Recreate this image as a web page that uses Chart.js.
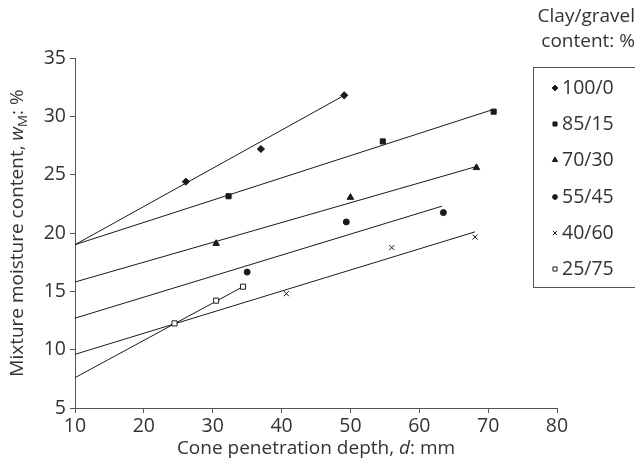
<!DOCTYPE html>
<html>
<head>
<meta charset="utf-8">
<script src="https://cdn.jsdelivr.net/npm/chart.js@4.4.0/dist/chart.umd.min.js"></script>
<style>
  html, body { margin: 0; padding: 0; background: #fff; }
</style>
</head>
<body>
<canvas id="chart" width="635" height="469"></canvas>
<script>
// measured points: cone depth (mm) vs mixture moisture content (%)
const seriesNames = ['100/0', '85/15', '70/30', '55/45', '40/60', '25/75'];

const depth100 = [26.1, 37.0, 49.1];
const moist100 = [24.4, 27.2, 31.8];
const depth85 = [32.3, 54.7, 70.8];
const moist85 = [23.15, 27.85, 30.4];
const depth70 = [30.5, 50.0, 68.3];
const moist70 = [19.1, 23.05, 25.6];
const depth55 = [35.0, 49.4, 63.5];
const moist55 = [16.65, 20.95, 21.75];
const depth40 = [40.7, 56.0, 68.1];
const moist40 = [14.8, 18.75, 19.65];
const depth25 = [24.45, 30.5, 34.4];
const moist25 = [12.25, 14.2, 15.4];

// fitted lines, [start, end]
const fitDepth100 = [10, 48.8], fitMoist100 = [19.0, 31.7];
const fitDepth85 = [10, 70.8], fitMoist85 = [19.0, 30.6];
const fitDepth70 = [10, 68.3], fitMoist70 = [15.8, 25.7];
const fitDepth55 = [10, 63.3], fitMoist55 = [12.7, 22.3];
const fitDepth40 = [10, 68.1], fitMoist40 = [9.6, 20.1];
const fitDepth25 = [10, 34.4], fitMoist25 = [7.6, 15.4];

const xTicks = [10, 20, 30, 40, 50, 60, 70, 80];
const yTicks = [5, 10, 15, 20, 25, 30, 35];

const INK = '#1a1a1a';
const AXIS = '#555';
const TEXT = '#333';
const FONT = '"Open Sans", "Noto Sans", sans-serif';
const TICK_SIZE = 19.5;
const TITLE_SIZE = 19;

const pts = (xs, ys) => xs.map((x, i) => ({ x, y: ys[i] }));

const markerStyles = [
  { pointStyle: 'rectRot', radius: 3.6, bg: INK },
  { pointStyle: 'rect', radius: 3.6, bg: INK },
  { pointStyle: 'triangle', radius: 3.8, bg: INK },
  { pointStyle: 'circle', radius: 3, bg: INK },
  { pointStyle: 'crossRot', radius: 3.6, bg: INK },
  { pointStyle: 'rect', radius: 3.6, bg: '#fff' }
];

const measured = [
  pts(depth100, moist100), pts(depth85, moist85), pts(depth70, moist70),
  pts(depth55, moist55), pts(depth40, moist40), pts(depth25, moist25)
];
const fits = [
  pts(fitDepth100, fitMoist100), pts(fitDepth85, fitMoist85), pts(fitDepth70, fitMoist70),
  pts(fitDepth55, fitMoist55), pts(fitDepth40, fitMoist40), pts(fitDepth25, fitMoist25)
];

const datasets = [];
fits.forEach((d, i) => {
  datasets.push({
    type: 'line', label: seriesNames[i] + ' fit', data: d,
    borderColor: INK, borderWidth: 1, pointRadius: 0, fill: false, order: 2
  });
});
measured.forEach((d, i) => {
  const m = markerStyles[i];
  datasets.push({
    type: 'scatter', label: seriesNames[i], data: d,
    pointStyle: m.pointStyle, pointRadius: m.radius,
    backgroundColor: m.bg, borderColor: INK, borderWidth: 1, order: 1
  });
});

// text with italic / subscript pieces
function richText(ctx, pieces, size) {
  let w = 0;
  pieces.forEach(p => {
    const s = p.sub ? size * 0.7 : size;
    ctx.font = (p.italic ? 'italic ' : '') + s + 'px ' + FONT;
    p.w = ctx.measureText(p.t).width;
    p.s = s;
    w += p.w;
  });
  return w;
}
function drawRich(ctx, pieces, size, x, y) {
  let cx = x;
  pieces.forEach(p => {
    ctx.font = (p.italic ? 'italic ' : '') + p.s + 'px ' + FONT;
    ctx.fillText(p.t, cx, p.sub ? y + size * 0.25 : y);
    cx += p.w;
  });
}

const titlesPlugin = {
  id: 'titles',
  afterDraw(chart) {
    const ctx = chart.ctx, a = chart.chartArea;
    ctx.save();
    ctx.fillStyle = TEXT;
    ctx.textBaseline = 'middle';
    ctx.textAlign = 'left';

    const xt = [{ t: 'Cone penetration depth, ' }, { t: 'd', italic: true }, { t: ': mm' }];
    const xw = richText(ctx, xt, TITLE_SIZE);
    drawRich(ctx, xt, TITLE_SIZE, (a.left + a.right) / 2 - xw / 2, 449);

    const yt = [{ t: 'Mixture moisture content, ' }, { t: 'w', italic: true }, { t: 'M', sub: true }, { t: ': %' }];
    const yw = richText(ctx, yt, TITLE_SIZE);
    ctx.translate(18, (a.top + a.bottom) / 2);
    ctx.rotate(-Math.PI / 2);
    drawRich(ctx, yt, TITLE_SIZE, -yw / 2, 0);
    ctx.restore();
  }
};

const legendPlugin = {
  id: 'boxLegend',
  afterDraw(chart) {
    const ctx = chart.ctx;
    ctx.save();
    ctx.fillStyle = TEXT;
    ctx.font = TITLE_SIZE + 'px ' + FONT;
    ctx.textBaseline = 'middle';
    ctx.textAlign = 'right';
    ctx.fillText('Clay/gravel', 635, 17);
    ctx.fillText('content: %', 635, 42);

    ctx.strokeStyle = AXIS;
    ctx.lineWidth = 1;
    ctx.strokeRect(533.5, 67.5, 120, 220);

    const rowY = [88, 124, 160, 197, 233, 269];
    ctx.font = TICK_SIZE + 'px ' + FONT;
    ctx.textAlign = 'left';
    seriesNames.forEach((name, i) => {
      const m = markerStyles[i];
      ctx.fillStyle = m.bg;
      ctx.strokeStyle = INK;
      ctx.lineWidth = 1;
      Chart.helpers.drawPoint(ctx, { pointStyle: m.pointStyle, radius: m.radius * 0.8, borderWidth: 1 }, 555, rowY[i]);
      ctx.fillStyle = TEXT;
      ctx.fillText(name, 562, rowY[i]);
    });
    ctx.restore();
  }
};

new Chart(document.getElementById('chart'), {
  type: 'scatter',
  data: { datasets },
  options: {
    responsive: false,
    animation: false,
    layout: { padding: { left: 0, right: 78, top: 58, bottom: 0 } },
    plugins: { legend: { display: false }, tooltip: { enabled: false } },
    scales: {
      x: {
        type: 'linear', min: 10, max: 80,
        afterBuildTicks: s => { s.ticks = xTicks.map(v => ({ value: v })); },
        afterFit: s => { s.height = 61; },
        ticks: { color: TEXT, font: { family: FONT, size: TICK_SIZE }, padding: 2 },
        grid: { drawOnChartArea: false, drawTicks: true, tickLength: 5, color: AXIS },
        border: { color: AXIS }
      },
      y: {
        type: 'linear', min: 5, max: 35,
        afterBuildTicks: s => { s.ticks = yTicks.map(v => ({ value: v })); },
        afterFit: s => { s.width = 75; },
        ticks: { color: TEXT, font: { family: FONT, size: TICK_SIZE }, padding: 4 },
        grid: { drawOnChartArea: false, drawTicks: true, tickLength: 5, color: AXIS },
        border: { color: AXIS }
      }
    }
  },
  plugins: [titlesPlugin, legendPlugin]
});
</script>
</body>
</html>
